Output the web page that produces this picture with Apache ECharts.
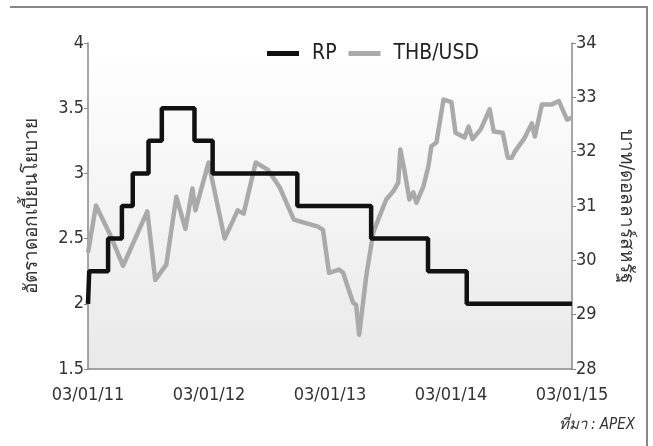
<!DOCTYPE html>
<html><head><meta charset="utf-8">
<script src="https://cdn.jsdelivr.net/npm/echarts@6/dist/echarts.min.js"></script>
<style>html,body{margin:0;padding:0;background:#fff}#c{width:653px;height:446px}</style>
</head><body><div id="c"></div>
<script>
var xTickLabels = ['03/01/11', '03/01/12', '03/01/13', '03/01/14', '03/01/15'];
var xStartYear = 2011;
var leftTitle = 'อัตราดอกเบี้ยนโยบาย';
var rightTitle = 'บาท/ดอลลาร์สหรัฐ';
var sourceText = 'ที่มา : APEX';
// RP policy rate: [year fraction, new rate] at each change
var rpDates = [2011.0, 2011.01, 2011.166, 2011.28, 2011.37, 2011.50, 2011.61, 2011.88, 2012.03, 2012.73, 2013.34, 2013.81, 2014.13, 2015.0];
var rpValues = [2.0, 2.25, 2.5, 2.75, 3.0, 3.25, 3.5, 3.25, 3.0, 2.75, 2.5, 2.25, 2.0, 2.0];
// THB/USD
var fxDates = [2011.000,2011.066,2011.183,2011.290,2011.490,2011.556,2011.647,2011.730,2011.805,2011.863,2011.888,2011.996,
  2012.129,2012.237,2012.286,2012.386,2012.485,2012.585,2012.701,2012.900,2012.942,2012.992,
  2013.075,2013.108,2013.191,2013.216,2013.241,2013.299,2013.357,2013.407,2013.465,2013.523,2013.564,2013.581,2013.614,2013.656,2013.689,2013.714,2013.772,2013.813,2013.838,2013.880,2013.938,
  2014.004,2014.037,2014.112,2014.145,2014.178,2014.245,2014.320,2014.353,2014.427,2014.469,2014.502,2014.527,2014.602,2014.668,2014.693,2014.751,2014.834,2014.892,2014.959,2015.000];
var fxValues = [30.14,31.01,30.47,29.90,30.90,29.64,29.92,31.17,30.58,31.32,30.92,31.80,
  30.40,30.92,30.86,31.80,31.67,31.34,30.75,30.62,30.56,29.77,
  29.83,29.77,29.22,29.18,28.63,29.70,30.51,30.80,31.12,31.27,31.43,32.04,31.67,31.12,31.25,31.06,31.36,31.73,32.10,32.17,32.96,
  32.91,32.35,32.26,32.46,32.23,32.41,32.78,32.37,32.35,31.89,31.89,32.00,32.23,32.52,32.28,32.87,32.87,32.93,32.59,32.63];

var FONT = '"Liberation Sans Narrow", "DejaVu Sans Condensed", "Noto Sans", sans-serif';
function pairs(a, b) { return a.map(function (v, i) { return [v, b[i]]; }); }

var chart = echarts.init(document.getElementById('c'), null, {renderer: 'canvas'});
chart.setOption({
  animation: false,
  backgroundColor: '#fff',
  grid: {
    left: 88, right: 81, top: 43, bottom: 77,
    show: true, borderWidth: 0,
    backgroundColor: {type: 'linear', x: 0, y: 0, x2: 0, y2: 1,
      colorStops: [{offset: 0, color: '#ffffff'}, {offset: 1, color: '#e9e9e9'}]}
  },
  legend: {
    top: 38, left: 262, itemGap: 12,
    itemWidth: 32, itemHeight: 5, icon: 'rect',
    textStyle: {fontFamily: FONT, fontSize: 21, color: '#222', padding: [0, 0, 0, 8]},
    data: ['RP', 'THB/USD']
  },
  xAxis: {
    type: 'value', min: xStartYear, max: xStartYear + xTickLabels.length - 1, interval: 1,
    axisLine: {lineStyle: {color: '#888', width: 1.5}},
    axisTick: {show: false},
    splitLine: {show: false},
    axisLabel: {
      fontFamily: FONT, fontSize: 18, color: '#333', margin: 17,
      formatter: function (v) { return xTickLabels[Math.round(v - xStartYear)]; }
    }
  },
  yAxis: [{
    type: 'value', min: 1.5, max: 4, interval: 0.5,
    name: leftTitle, nameLocation: 'middle', nameRotate: 90, nameGap: 46,
    nameTextStyle: {fontFamily: FONT, fontSize: 19, color: '#333'},
    axisLine: {show: true, lineStyle: {color: '#888', width: 1.5}},
    axisTick: {show: true, length: 4, lineStyle: {color: '#888'}},
    splitLine: {show: false},
    axisLabel: {fontFamily: FONT, fontSize: 18, color: '#333', margin: 4}
  }, {
    type: 'value', min: 28, max: 34, interval: 1, position: 'right',
    name: rightTitle, nameLocation: 'middle', nameRotate: -90, nameGap: 44,
    nameTextStyle: {fontFamily: FONT, fontSize: 19, color: '#333'},
    axisLine: {show: true, lineStyle: {color: '#888', width: 1.5}},
    axisTick: {show: true, length: 4, lineStyle: {color: '#888'}},
    splitLine: {show: false},
    axisLabel: {fontFamily: FONT, fontSize: 18, color: '#333', margin: 4}
  }],
  series: [{
    name: 'THB/USD', type: 'line', yAxisIndex: 1, symbol: 'none',
    data: pairs(fxDates, fxValues),
    itemStyle: {color: '#aaaaaa'},
    lineStyle: {color: '#aaaaaa', width: 4.5, join: 'round'},
    z: 2
  }, {
    name: 'RP', type: 'line', yAxisIndex: 0, symbol: 'none', step: 'end',
    data: pairs(rpDates, rpValues),
    itemStyle: {color: '#111'},
    lineStyle: {color: '#111', width: 4.5},
    z: 3
  }],
  graphic: [
    {type: 'line', shape: {x1: 10, y1: 7, x2: 648, y2: 7}, style: {stroke: '#888', lineWidth: 2}},
    {type: 'line', shape: {x1: 647, y1: 7, x2: 647, y2: 446}, style: {stroke: '#888', lineWidth: 2}},
    {type: 'text', right: 18, top: 418, style: {text: sourceText, fontFamily: FONT, fontSize: 15, fontStyle: 'italic', fill: '#333'}}
  ]
});
</script></body></html>
